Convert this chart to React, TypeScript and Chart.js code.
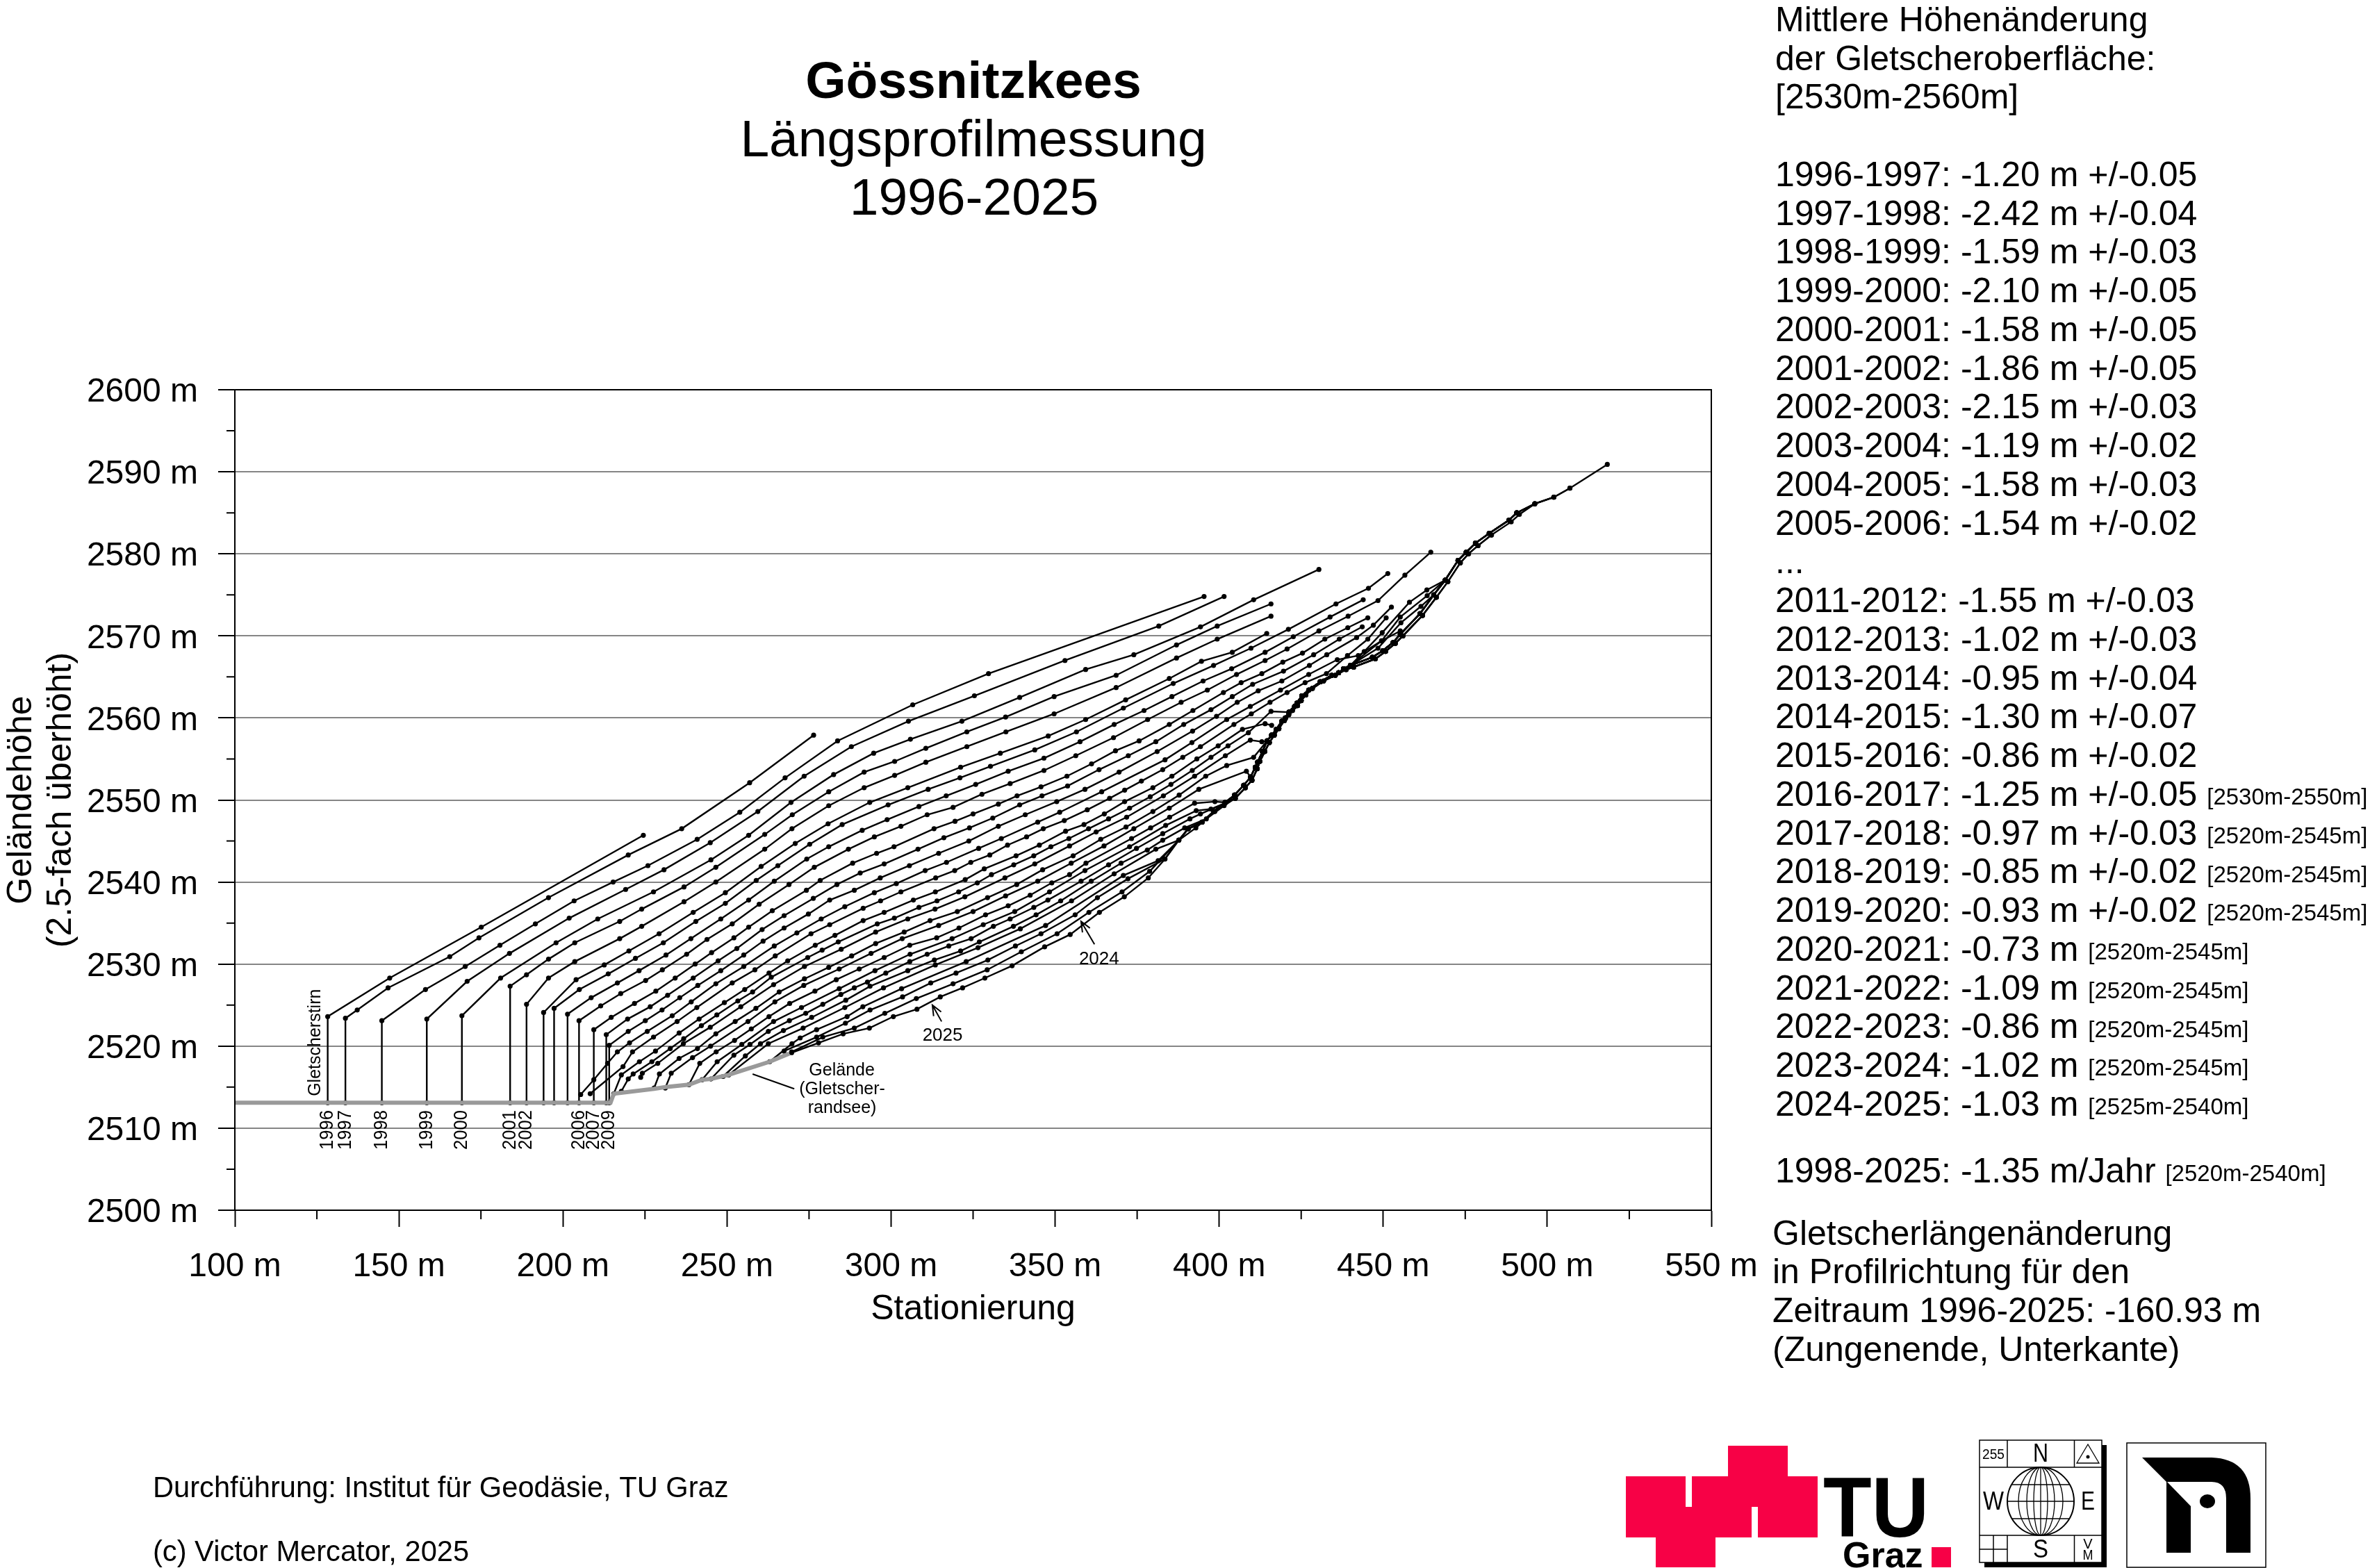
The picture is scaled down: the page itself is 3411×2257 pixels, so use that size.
import React, { useEffect, useRef } from "react";
import { Chart, registerables } from "chart.js";

Chart.register(...registerables);

type P = [number, number];

const FRONT_FOOT = 2513.1;

const s1996: P[] = [[128.3,FRONT_FOOT],[128.3,2523.6],[147.2,2528.3],[175.1,2534.5],[224.5,2545.7]];
const s1997: P[] = [[133.7,FRONT_FOOT],[133.7,2523.4],[137.3,2524.4],[146.7,2527.1],[165.5,2530.9],[174.4,2533.2],[195.6,2538.1],[219.9,2543.3],[236.2,2546.5],[256.9,2552.1],[276.4,2557.9]];
const s1998: P[] = [[144.8,FRONT_FOOT],[144.8,2523.1],[158.1,2526.9],[170.2,2529.7],[180.8,2532.3],[191.6,2534.9],[203.4,2537.7],[215.3,2540],[225.9,2542],[240.9,2545.2],[253.9,2548.5],[267.7,2552.7],[283.7,2557.2],[306.6,2561.6],[329.7,2565.4],[395.4,2574.8]];
const s1999: P[] = [[158.5,FRONT_FOOT],[158.5,2523.3],[170.8,2527.9],[183.7,2531.3],[201.9,2535.6],[219.1,2539.1],[230.8,2541.5],[244.9,2544.8],[259.4,2548.6],[273.5,2552.9],[287.9,2556.5],[305.3,2559.6],[325.4,2562.7],[353,2567],[381.6,2571.2],[401.5,2574.8]];
const s2000: P[] = [[169.2,FRONT_FOOT],[169.2,2523.7],[181,2528.3],[197.9,2532.6],[210.6,2535.5],[227.6,2538.8],[245.1,2542.7],[256.6,2545.7],[269.5,2549.7],[282.5,2553.1],[294.7,2555.7],[305.9,2557.4],[321.6,2559.6],[339.2,2562.5],[359.3,2565.9],[374,2567.7],[394.3,2571.1],[410.5,2574.4],[430.4,2578.1]];
const s2001: P[] = [[183.9,FRONT_FOOT],[183.9,2527.3],[188.9,2528.7],[195.6,2530.6],[203.6,2532.6],[217.3,2535.2],[224,2536.7],[236.9,2539.4],[246.6,2541.8],[261.5,2545.8],[269.9,2548.2],[281,2551],[291.8,2553.4],[301.1,2554.7],[310.6,2556.3],[323.1,2558.3],[334.9,2560.1],[349.7,2562.6],[368.6,2565.2],[387,2568.9],[399.4,2571.2],[415.8,2573.9]];
const s2002: P[] = [[188.9,FRONT_FOOT],[188.9,2525.1],[195.6,2528.3],[203.6,2530.3],[217.3,2533.1],[224,2534.6],[236.9,2537.6],[246.6,2540],[261.5,2544],[269.8,2546.5],[281,2549.3],[291.8,2551.5],[301.1,2553],[310.6,2554.6],[323.1,2556.5],[335,2558.3],[349.7,2560.5],[368.6,2563.7],[387,2567.3],[399.4,2569.6],[415.8,2572.4]];
const s2003: P[] = [[194.1,FRONT_FOOT],[194.1,2524.1],[204,2528.1],[212.6,2529.9],[220.1,2531.6],[229.3,2533.7],[239.7,2536.3],[249.5,2538.7],[260.4,2541.9],[270.8,2544.7],[280.8,2547.1],[293.5,2549.7],[305.1,2551.5],[321.2,2554],[333.3,2555.7],[347.9,2557.8],[359.3,2559.8],[371.5,2562.2],[384.8,2564.8],[394.6,2566.9],[404,2568],[414.5,2570.3]];
const s2004: P[] = [[197.3,FRONT_FOOT],[197.3,2524.6],[205,2526.9],[213.8,2528.8],[222.1,2530.7],[230.6,2532.6],[240.5,2535.2],[249.5,2537.4],[258.9,2540.2],[265.5,2542],[275.2,2544.6],[285.1,2547],[299.1,2549.4],[311.3,2551.3],[321,2552.7],[330.3,2554.1],[343.8,2556.1],[356.5,2558.3],[370.8,2561.2],[386,2564.2],[398.3,2566.4],[409.7,2568.5],[421.1,2570.8],[435.6,2573.9],[445.5,2575.8],[451.4,2577.6]];
const s2005: P[] = [[201.4,FRONT_FOOT],[201.4,2523.9],[208.6,2525.9],[216.6,2527.7],[223.2,2529.2],[231.4,2531.1],[239,2533.1],[248.1,2535.5],[256.6,2537.8],[264.4,2540.1],[274.3,2542.8],[281,2544.3],[291.2,2546.3],[298.8,2547.6],[308.5,2549.2],[316.8,2550.5],[325.8,2551.9],[335.7,2553.5],[346.6,2555.1],[357.6,2557.1],[368,2559.2],[377.1,2560.9],[385.6,2562.6],[395.1,2564.5],[403.8,2566],[414,2568],[422.6,2569.9],[433.8,2572.3],[443.9,2574.4]];
const s2006: P[] = [[204.9,FRONT_FOOT],[204.9,2523.1],[211.5,2524.9],[217.6,2526.4],[225.2,2528],[230.3,2529.3],[237.7,2531.2],[243.9,2533],[251.6,2534.9],[259.8,2537.3],[268.9,2539.7],[276.6,2541.8],[287,2544],[294.9,2545.5],[303,2546.8],[311,2548.2],[318.9,2549.1],[327.7,2550.7],[336.3,2552],[346.6,2553.6],[356.3,2555.4],[367.8,2557.6],[378.2,2559.8],[388.4,2561.9],[396.4,2563.4],[405.3,2565.3],[414,2567],[420.7,2568.4],[430.4,2570.6],[439.3,2572.4],[448.4,2574.3],[456.6,2577.4],[464.5,2580.2]];
const s2007: P[] = [[209.4,FRONT_FOOT],[209.4,2522],[214.7,2523.5],[221.8,2525.2],[228.3,2526.7],[234.2,2528.3],[240.3,2530],[245.3,2531.4],[252.1,2533.2],[256.6,2534.5],[263.8,2536.5],[274.2,2539],[278.4,2540.2],[288.3,2542.3],[295.6,2543.5],[300.9,2544.3],[313.1,2546.5],[319.5,2547.4],[325,2548.3],[332.7,2549.5],[338.4,2550.5],[345.7,2551.6],[353.6,2552.9],[361.1,2554.4],[368.4,2556],[375.6,2557.2],[384.8,2559.2],[392,2560.9],[401.3,2563.1],[406.7,2564.3],[413,2565.4],[419.4,2566.8],[425.4,2567.9],[432.2,2569.6],[439.2,2571],[445.3,2572.2]];
const s2008: P[] = [[213.2,FRONT_FOOT],[213.2,2521.4],[219.7,2523.3],[226.6,2524.8],[231.9,2526.2],[239.7,2528.3],[247.3,2530.4],[253,2531.9],[260.7,2534.2],[267.4,2535.9],[276.3,2538],[283.5,2539.7],[290.6,2541.1],[297.9,2542.2],[308.2,2544],[316.1,2545.4],[323.9,2546.6],[331,2547.8],[339.2,2549.4],[346,2550.5],[353.8,2551.7],[363.4,2553.7],[372.3,2555.4],[380.7,2557.1],[389.2,2559.2],[397.5,2561],[404,2562.6],[410.2,2564.1],[419.6,2565.7],[428.8,2567.7],[436.6,2569.6],[443.6,2571.1]];
const s2009: P[] = [[214.1,FRONT_FOOT],[214.1,2520.1],[219.9,2521.8],[225.1,2523.1],[230.2,2524.4],[235.6,2525.9],[241.1,2527.4],[248.1,2529.2],[255.1,2531.1],[261,2532.8],[267.4,2534.4],[274.8,2536.1],[281.3,2537.8],[288.8,2539],[296.7,2540.5],[305.6,2542],[314.5,2543.5],[323.7,2545],[332.7,2546.8],[340.9,2548.2],[350.5,2549.8],[359.1,2551.3],[369.5,2553.4],[381.1,2555.9],[391.9,2558.4],[399.2,2560.2],[405.5,2561.9],[411.9,2563.3],[419.1,2564.5],[427.5,2566.4],[432.8,2567.7],[441.9,2569.8],[447,2571.3],[452.5,2573.5]];
const s2010: P[] = [[205.4,2514.1],[209.4,2515.9],[213.6,2517.9],[216.6,2519.3],[220.3,2520.4],[225.7,2521.8],[233.3,2523.7],[239.1,2525.4],[246.6,2527.6],[255.1,2529.7],[264.4,2532.2],[271.3,2533.8],[278.7,2535.5],[285.9,2537],[294.9,2538.7],[301.6,2539.8],[310.4,2541.4],[316.9,2542.4],[326.7,2544.1],[333.6,2545.3],[344.7,2547.3],[351.4,2548.5],[364.2,2551],[383.5,2554.9],[391.7,2557],[402.3,2559.8],[409.5,2561.4],[418.7,2563.4],[427.3,2565.3],[436,2567.1],[442.4,2567.6],[449.5,2569.4],[455.2,2570.6]];
const s2011: P[] = [[208.3,2514.2],[218.3,2517.5],[221.2,2519.3],[227.6,2521.1],[234.8,2523],[240.8,2524.7],[251.6,2527.7],[258.5,2529.3],[264.7,2531],[275.6,2533.7],[281.3,2534.8],[291.5,2536.8],[296.8,2537.7],[303,2538.8],[313.6,2540.5],[319.4,2541.4],[324.3,2542.4],[330.1,2543.3],[335.5,2544.5],[341.3,2545.5],[346.4,2546.5],[352.8,2547.5],[359.8,2548.8],[366.6,2550.2],[371.2,2551.2],[376.3,2552.3],[382.8,2553.7],[388.9,2555.2],[394.3,2556.5],[404.5,2559.2],[409.8,2560.5],[415.5,2561.9],[420.7,2563.1],[426.2,2564.3],[432.7,2565.4],[439.1,2567.6],[445.3,2569.6],[450.9,2572.2]];
const s2012: P[] = [[215.5,2514.2],[217.8,2516.5],[223.3,2518.1],[228.2,2519.4],[235.4,2521.6],[241.5,2523.3],[249.2,2525.3],[255.4,2526.9],[262.8,2528.9],[268.5,2530.4],[276.9,2532.3],[282.9,2533.5],[291.5,2535.3],[297.9,2536.3],[306.8,2537.8],[313.5,2538.8],[322.6,2540.3],[328.4,2541.6],[338.1,2543.2],[345.2,2544.5],[353.2,2546.2],[358.8,2547],[365,2548.3],[371.2,2549.8],[379.8,2551.5],[385.6,2552.9],[393.2,2555],[399.7,2556.6],[407.1,2558.6],[414,2559.3],[416,2559.1]];
const s2013: P[] = [[217.8,2514.5],[219.9,2516],[221.4,2516.6],[227.1,2518.1],[232.7,2519.7],[236.8,2520.9],[242.2,2522.5],[246.9,2523.8],[253.3,2525.5],[257.8,2526.6],[263.5,2528.4],[274.6,2530.8],[279,2531.7],[283.9,2532.7],[295.8,2534.9],[301,2535.6],[308.5,2536.9],[314,2537.7],[320.6,2538.8],[326.3,2539.9],[330.6,2540.9],[337.4,2542.1],[343.5,2543.2],[348.7,2544.3],[354.2,2545.3],[360.2,2546.5],[366.3,2547.7],[372.7,2549],[379,2550.4],[385.3,2551.9],[391.8,2553.6],[397.5,2555.2],[402.7,2556.6],[408.9,2558.2],[415.8,2560.8],[421.3,2560.7]];
const s2013Upper: P[] = [[444.2,2568.1],[449.7,2570.4],[458,2574.1],[463.3,2575.6]];
const s2014: P[] = [[223.7,2516.2],[224.2,2516.7],[228.9,2517.9],[236.7,2520.3],[244.9,2522.3],[254.2,2524.8],[264.2,2527.5],[273.6,2529.7],[284.8,2531.8],[295.3,2533.9],[305.1,2535.5],[313.4,2536.7],[322.5,2538.2],[334.7,2540.5],[343.8,2542.2],[354.4,2544.4],[362.5,2546.1],[371.8,2547.9],[383,2550.5],[392.5,2552.9],[401.9,2555.4],[409.5,2557.3],[413,2557.1]];
const s2014Upper: P[] = [[449.5,2569.4],[455.2,2572.3],[463.4,2574.9]];
const s2015: P[] = [[227.8,2514.9],[229.4,2516.6],[235.4,2518.5],[241,2519.7],[246.6,2521.5],[252.5,2523],[258.8,2524.6],[265.9,2526.6],[273.6,2528.2],[281,2529.6],[288,2531],[295.3,2532.5],[304,2533.9],[311.9,2535.3],[320.2,2536.4],[329.4,2538.1],[338.3,2539.7],[346.2,2541.5],[355.5,2543.2],[363.9,2545.2],[371.6,2546.7],[379.8,2548.6],[387.8,2550.6],[395.9,2552.9],[402.3,2554.2],[410.5,2555.2]];
const s2015Upper: P[] = [[448.4,2568.5],[455.4,2571.6],[461.5,2573.6]];
const s2016: P[] = [[231.2,2514.9],[233,2516.7],[239.5,2518.6],[245,2520],[256.4,2523],[264.6,2525.4],[273.4,2527.4],[284.2,2529.4],[293.9,2531.3],[303.4,2533.1],[314.5,2534.7],[325,2536.4],[334.9,2538.3],[344.7,2540.1],[354.9,2542.3],[364.9,2544.4],[374,2546.5],[384.8,2549],[393.8,2551.3],[408.3,2553.5],[409.6,2552.8]];
const s2017: P[] = [[238.4,2515.3],[241.7,2517.9],[246.7,2519.3],[252.3,2520.7],[257.4,2522.1],[262.8,2523.6],[269.1,2525.2],[276.8,2526.7],[283.3,2528.1],[290.3,2529.4],[297.9,2530.8],[305.7,2532.3],[313.9,2533.2],[320.7,2534.4],[328.8,2536],[335.7,2537.1],[342.4,2538.4],[349,2539.9],[354.4,2540.9],[359.4,2542.3],[373.3,2545.3],[379.1,2546.6],[384.9,2547.9],[392.5,2549.6],[398.7,2549.8],[401.8,2549.7]];
const s2018: P[] = [[242.4,2515.9],[247,2518.1],[254.5,2520.2],[264.2,2523],[272.7,2524.7],[284.2,2527],[295.1,2529.2],[305.8,2531.2],[318.6,2533.1],[328.1,2534.8],[337.7,2536.4],[348.3,2538.8],[359.1,2541.4],[372.7,2544.3],[383.7,2546.9],[393,2548.7],[397.5,2548.9],[401.8,2549.6]];
const s2019: P[] = [[245.1,2516],[252.1,2518.9],[257,2520.2],[262.6,2521.8],[269,2523.1],[274,2524],[279.2,2525.1],[284.7,2526.3],[288.8,2527.1],[292.8,2527.8],[298.4,2528.9],[305.7,2530.3],[311,2531.2],[317.6,2532.2],[324.4,2533.1],[331.2,2534.6],[336.3,2535.5],[343.5,2536.9],[347.8,2537.8],[357.9,2540.1],[366.3,2542.1],[374.8,2544.1],[382.8,2545.9],[391.1,2547.7],[394.3,2548.3],[401.8,2549.6]];
const s2020: P[] = [[248.8,2516.3],[255.6,2518.8],[260.2,2520.3],[267.2,2521.9],[275.8,2523.5],[286.2,2525.6],[293.6,2527.3],[305.1,2529.2],[313.2,2530.5],[321.2,2531.6],[326.9,2532.7],[337.3,2534.6],[344.2,2536],[351.7,2537.7],[361,2540.1],[370.1,2542.3],[378.1,2543.9],[382.8,2545.1],[389.5,2546.6],[396.1,2547.7],[401.5,2549.3]];
const s2021: P[] = [[250.5,2516.5],[262.6,2520.3],[273.2,2522.2],[285.9,2524.7],[297.7,2527.1],[313.5,2529.9],[326.5,2532],[339.4,2534.3],[355,2537.7],[368,2541],[380.7,2544],[387.7,2545.1],[392.9,2546.6],[398.7,2548.6]];
const s2022: P[] = [[263,2518.1],[269.8,2520.3],[272.3,2521],[277.3,2522],[286.6,2523.6],[291.4,2524.8],[303.2,2527],[322.9,2530.3],[347.1,2534.7],[370.8,2540.8],[381.4,2542.6]];
const s2023: P[] = [[267.4,2519.4],[277.3,2521.1],[286.1,2522.8],[293.6,2524.4],[303.5,2526],[312.1,2527.7],[319.8,2528.9],[329.5,2530.5],[337.9,2532.2],[345.7,2533.7],[356.1,2536],[362.9,2538.1],[372.2,2540.4],[383.4,2542.8]];
const s2024: P[] = [[269.7,2519.3],[279.2,2521.1],[288.8,2522.2],[298.1,2524],[307.7,2525.8],[318.9,2527.6],[329.3,2529.3],[339.7,2531.5],[350.6,2533.7],[360.3,2536.3],[370.4,2538.8],[378.8,2541.3]];
const s2025: P[] = [[269.7,2519.2],[277.9,2520.4],[285.4,2521.5],[293.4,2522.2],[300.7,2523.6],[307.9,2524.5],[315,2526],[321.8,2527.1],[328.6,2528.3],[336.9,2529.8],[346.8,2532.1],[354.6,2533.6],[363.5,2536.3],[371.1,2538.2],[378.4,2540.5],[383.5,2542.8]];

// surveyed surface along the steep upper part, shared by the later profiles
const ridge: P[] = [[387.7,2545.1],[390.6,2546.5],[394.8,2547.3],[398.3,2548.6],[401.8,2549.7],[404.7,2550.6],[407.5,2551.8],[409.6,2552.8],[411,2554],[411.7,2554.6],[413.2,2555.9],[414.6,2557.2],[416,2557.9],[417.4,2558.6],[419.1,2559.6],[420.2,2560],[421.3,2560.7],[423,2561.4],[423.7,2561.8],[425.2,2562.7],[427.3,2563.4],[430.8,2564.4],[434.3,2565.2],[436.4,2565.5],[437.9,2566],[440,2566.4],[446.7,2567.4],[449.9,2568.2],[453,2569.2],[455.2,2570.2],[461.2,2572.7],[465.4,2575],[468.9,2576.8],[472.8,2579.2],[475.3,2580.2],[478.1,2581.3],[482.3,2582.5],[488.3,2584.1],[490.7,2585],[496.2,2586.1],[502,2586.9],[506.9,2588],[518.3,2590.9]];
// the same surface as surveyed in the last few years, a hair below the earlier line
const ridgeLate: P[] = [[404.9,2550.2],[408,2551.5],[410,2552.4],[411.6,2553.8],[412.4,2554.7],[413.9,2555.9],[415.3,2557],[416.8,2557.9],[418.2,2558.7],[419.9,2559.7],[421.2,2560.4],[422.3,2560.9],[423.9,2561.5],[425,2562.1],[426.4,2562.8],[428.4,2563.6],[431.8,2564.5],[435.4,2565.2],[438.7,2565.9],[441,2566.2],[447.6,2567.2],[450.7,2568.1],[453.7,2569.1],[456,2570],[462,2572.5],[466.2,2574.7],[469.7,2576.6],[473.5,2578.9],[476,2580],[478.9,2581],[483,2582.3],[489,2583.9],[491.5,2584.8]];

const terrain: P[] = [[100,2513.1],[214.5,2513.1],[215.5,2514.2],[227.8,2514.8],[231.2,2515],[238.4,2515.3],[242.4,2515.9],[245.1,2516],[250.5,2516.5],[263,2518.1],[269,2519.1]];

const ridgeBetween = (a: number, b: number): P[] => ridge.filter(([x]) => x >= a && x <= b);
const lateBetween = (a: number, b: number): P[] => ridgeLate.filter(([x]) => x >= a && x <= b);

const profiles: P[][] = [
  s1996, s1997, s1998, s1999, s2000, s2001, s2002, s2003, s2004, s2005, s2006, s2007, s2008, s2009,
  s2010, s2011, s2012,
  [...s2013, ...ridgeBetween(425, 440), ...s2013Upper, ...ridgeBetween(468.9, 475.3)],
  [...s2014, ...ridgeBetween(414.6, 440), ...s2014Upper, ...ridgeBetween(468.9, 490.7)],
  [...s2015, ...ridgeBetween(414.6, 440), ...s2015Upper, ...ridgeBetween(465.4, 478.1)],
  [...s2016, ...ridgeBetween(411, 461.2)],
  [...s2017, ...ridgeBetween(404.7, 502)],
  [...s2018, ...ridgeBetween(404.7, 496.2)],
  [...s2019, ...ridgeBetween(404.7, 490.7)],
  [...s2020, ...lateBetween(404.9, 483)],
  [...s2021, ...ridgeBetween(401.8, 472.8)],
  [...s2022, ...ridgeBetween(387.7, 402), ...lateBetween(404.9, 466.2)],
  [...s2023, ...ridgeBetween(387.7, 402), ...lateBetween(404.9, 462)],
  [...s2024, ...ridgeBetween(387.7, 402), ...lateBetween(404.9, 491.5), ...ridgeBetween(496.2, 506.9)],
  [...s2025, ...ridgeBetween(387.7, 518.3)],
];

const frontYears = ["1996","1997","1998","1999","2000","2001","2002","2006","2007","2009"];
const frontYearX = [128.1,133.5,144.6,158.3,169,183.7,188.7,204.7,209.2,213.9];

const rightBlock: [string, string][] = [
  ["Mittlere Höhenänderung",""],
  ["der Gletscheroberfläche:",""],
  ["[2530m-2560m]",""],
  ["",""],
  ["1996-1997: -1.20 m +/-0.05",""],
  ["1997-1998: -2.42 m +/-0.04",""],
  ["1998-1999: -1.59 m +/-0.03",""],
  ["1999-2000: -2.10 m +/-0.05",""],
  ["2000-2001: -1.58 m +/-0.05",""],
  ["2001-2002: -1.86 m +/-0.05",""],
  ["2002-2003: -2.15 m +/-0.03",""],
  ["2003-2004: -1.19 m +/-0.02",""],
  ["2004-2005: -1.58 m +/-0.03",""],
  ["2005-2006: -1.54 m +/-0.02",""],
  ["...",""],
  ["2011-2012: -1.55 m +/-0.03",""],
  ["2012-2013: -1.02 m +/-0.03",""],
  ["2013-2014: -0.95 m +/-0.04",""],
  ["2014-2015: -1.30 m +/-0.07",""],
  ["2015-2016: -0.86 m +/-0.02",""],
  ["2016-2017: -1.25 m +/-0.05","[2530m-2550m]"],
  ["2017-2018: -0.97 m +/-0.03","[2520m-2545m]"],
  ["2018-2019: -0.85 m +/-0.02","[2520m-2545m]"],
  ["2019-2020: -0.93 m +/-0.02","[2520m-2545m]"],
  ["2020-2021: -0.73 m","[2520m-2545m]"],
  ["2021-2022: -1.09 m","[2520m-2545m]"],
  ["2022-2023: -0.86 m","[2520m-2545m]"],
  ["2023-2024: -1.02 m","[2520m-2545m]"],
  ["2024-2025: -1.03 m","[2525m-2540m]"],
];
const summaryLine: [string, string] = ["1998-2025: -1.35 m/Jahr","[2520m-2540m]"];
const lengthBlock = ["Gletscherlängenänderung","in Profilrichtung für den","Zeitraum 1996-2025: -160.93 m","(Zungenende, Unterkante)"];

const SANS = '"Liberation Sans", Arial, sans-serif';

function drawLogos(c: CanvasRenderingContext2D) {
  // TU Graz
  c.fillStyle = "#f70146";
  c.fillRect(2340, 2125, 276, 88);
  c.fillRect(2487, 2081, 86, 44);
  c.fillRect(2383, 2213, 86, 43);
  c.fillStyle = "#fff";
  c.fillRect(2426, 2125, 9, 44);
  c.fillRect(2521, 2169, 9, 44);
  c.fillStyle = "#000";
  c.textAlign = "left";
  c.textBaseline = "alphabetic";
  c.font = `bold 122px ${SANS}`;
  c.fillText("TU", 2624, 2212, 152);
  c.font = `bold 52px ${SANS}`;
  c.fillText("Graz", 2652, 2256, 124);
  c.fillStyle = "#f70146";
  c.fillRect(2780, 2227, 28, 29);
  // map sheet symbol
  c.fillStyle = "#000";
  c.fillRect(2856, 2080, 176, 176);
  c.fillStyle = "#fff";
  c.fillRect(2849, 2073, 176, 176);
  c.fillStyle = "#000";
  c.strokeStyle = "#000";
  c.lineWidth = 1.5;
  c.strokeRect(2849, 2073, 176, 176);
  c.beginPath();
  c.moveTo(2889, 2073); c.lineTo(2889, 2112);
  c.moveTo(2889, 2210); c.lineTo(2889, 2249);
  c.moveTo(2985.5, 2073); c.lineTo(2985.5, 2112);
  c.moveTo(2985.5, 2210); c.lineTo(2985.5, 2249);
  c.moveTo(2849, 2112); c.lineTo(3025, 2112);
  c.moveTo(2849, 2210); c.lineTo(3025, 2210);
  c.moveTo(2849, 2230); c.lineTo(2889, 2230);
  c.moveTo(2869, 2210); c.lineTo(2869, 2249);
  c.stroke();
  c.lineWidth = 2;
  c.beginPath(); c.ellipse(2937, 2161, 48, 49, 0, 0, Math.PI * 2); c.stroke();
  c.lineWidth = 1.3;
  c.save();
  c.beginPath(); c.ellipse(2937, 2161, 48, 49, 0, 0, Math.PI * 2); c.clip();
  [10, 20, 32].forEach((rx) => { c.beginPath(); c.ellipse(2937, 2161, rx, 49, 0, 0, Math.PI * 2); c.stroke(); });
  c.beginPath();
  c.moveTo(2937, 2112); c.lineTo(2937, 2210);
  c.moveTo(2889, 2161); c.lineTo(2985, 2161);
  c.moveTo(2889, 2137); c.lineTo(2985, 2137);
  c.moveTo(2889, 2186); c.lineTo(2985, 2186);
  c.stroke();
  c.restore();
  c.lineWidth = 1.3;
  c.beginPath(); c.moveTo(3005, 2079); c.lineTo(2989, 2106); c.lineTo(3021, 2106); c.closePath(); c.stroke();
  c.beginPath(); c.arc(3005, 2097, 2.5, 0, Math.PI * 2); c.fill();
  c.textAlign = "center";
  c.textBaseline = "middle";
  c.font = `20px ${SANS}`;
  c.fillText("255", 2869, 2094, 32);
  c.font = `36px ${SANS}`;
  c.fillText("N", 2937, 2094, 22);
  c.fillText("S", 2937, 2232, 22);
  c.fillText("W", 2869, 2163, 30);
  c.fillText("E", 3005, 2163, 20);
  c.font = `20px ${SANS}`;
  c.fillText("V", 3005, 2223);
  c.fillText("M", 3005, 2239, 15);
  // third sign
  c.lineWidth = 1.5;
  c.strokeRect(3061, 2077, 200, 179);
  c.beginPath();
  c.moveTo(3083, 2098);
  c.lineTo(3183, 2098);
  c.quadraticCurveTo(3239, 2100, 3239, 2157);
  c.lineTo(3239, 2235); c.lineTo(3204, 2235); c.lineTo(3204, 2157);
  c.quadraticCurveTo(3204, 2133, 3183, 2133);
  c.lineTo(3119, 2133); c.lineTo(3153, 2168); c.lineTo(3153, 2235); c.lineTo(3118, 2235); c.lineTo(3118, 2133);
  c.closePath();
  c.fill();
  c.fillStyle = "#000";
  c.beginPath(); c.ellipse(3177, 2161, 11, 10, 0, 0, Math.PI * 2); c.fill();
}

const pagePlugin = {
  id: "page",
  afterDatasetsDraw(chart: any) {
    const c: CanvasRenderingContext2D = chart.ctx;
    const xs = chart.scales.x, ys = chart.scales.y;
    const { left, right, top, bottom } = chart.chartArea;
    const px = (v: number) => xs.getPixelForValue(v);
    const py = (v: number) => ys.getPixelForValue(v);
    c.save();
    // frame
    c.strokeStyle = "#000";
    c.lineWidth = 2;
    c.strokeRect(left, top, right - left, bottom - top);
    // minor ticks
    c.lineWidth = 2;
    c.beginPath();
    for (let v = 2505; v < 2600; v += 10) { c.moveTo(left - 12, py(v)); c.lineTo(left, py(v)); }
    for (let v = 125; v < 550; v += 50) { c.moveTo(px(v), bottom); c.lineTo(px(v), bottom + 13); }
    c.stroke();
    // year labels under the ice fronts
    c.fillStyle = "#000";
    c.font = `27px ${SANS}`;
    c.textBaseline = "middle";
    c.textAlign = "right";
    frontYears.forEach((t, i) => {
      c.save();
      c.translate(px(frontYearX[i]), py(2512.2));
      c.rotate(-Math.PI / 2);
      c.scale(0.95, 1);
      c.fillText(t, 0, 1);
      c.restore();
    });
    c.save();
    c.translate(px(124.5), py(2513.9));
    c.rotate(-Math.PI / 2);
    c.textAlign = "left";
    c.font = `25px ${SANS}`;
    c.fillText("Gletscherstirn", 0, 0);
    c.restore();
    // annotation labels + leaders
    c.textAlign = "center";
    c.font = `26px ${SANS}`;
    c.fillText("2024", px(363.4), py(2530.6));
    c.fillText("2025", px(315.7), py(2521.3));
    c.font = `25px ${SANS}`;
    c.fillText("Gelände", px(285), py(2517));
    c.fillText("(Gletscher-", px(285.1), py(2514.7));
    c.fillText("randsee)", px(285.1), py(2512.4));
    c.lineWidth = 2;
    const leader = (x0: number, y0: number, x1: number, y1: number, arrow: boolean) => {
      const ax = px(x0), ay = py(y0), bx = px(x1), by = py(y1);
      c.beginPath();
      c.moveTo(ax, ay); c.lineTo(bx, by);
      if (arrow) {
        const ang = Math.atan2(by - ay, bx - ax), L = 16;
        c.moveTo(ax + L * Math.cos(ang - 0.4), ay + L * Math.sin(ang - 0.4));
        c.lineTo(ax, ay);
        c.lineTo(ax + L * Math.cos(ang + 0.4), ay + L * Math.sin(ang + 0.4));
      }
      c.stroke();
    };
    leader(357.9, 2535.2, 362, 2532.4, true);
    leader(312.6, 2525, 315.4, 2523, true);
    leader(257.8, 2516.6, 270.5, 2514.8, false);
    // page title
    c.textAlign = "center";
    c.textBaseline = "middle";
    c.font = `bold 75px ${SANS}`;
    c.fillText("Gössnitzkees", 1401, 120);
    c.font = `75px ${SANS}`;
    c.fillText("Längsprofilmessung", 1401, 204);
    c.fillText("1996-2025", 1402, 288);
    // right column
    c.textAlign = "left";
    const lineY = (i: number) => 31 + i * 55.75;
    const big = `50px ${SANS}`, small = `33px ${SANS}`;
    const row = (t: [string, string], x: number, y: number) => {
      c.font = big;
      c.fillText(t[0], x, y);
      if (t[1]) {
        const w = c.measureText(t[0] + " ").width;
        c.font = small;
        c.fillText(t[1], x + w, y + 3);
      }
    };
    rightBlock.forEach((t, i) => { if (t[0]) row(t, 2555, lineY(i)); });
    row(summaryLine, 2555, 1688);
    lengthBlock.forEach((t, i) => { c.font = big; c.fillText(t, 2551, 1778 + i * 55.7); });
    // footer
    c.font = `41.65px ${SANS}`;
    c.fillText("Durchführung: Institut für Geodäsie, TU Graz", 220, 2144);
    c.fillText("(c) Victor Mercator, 2025", 220, 2236);
    drawLogos(c);
    c.restore();
  },
};

export default function App() {
  const ref = useRef<HTMLCanvasElement>(null);
  useEffect(() => {
    const chart = new Chart(ref.current as HTMLCanvasElement, {
      type: "line",
      data: {
        datasets: [
          {
            label: "Gelände",
            data: terrain.map(([x, y]) => ({ x, y })),
            borderColor: "#9a9a9a",
            borderWidth: 6,
            pointRadius: 0,
            tension: 0,
          },
          ...profiles.map((p, i) => ({
            label: String(1996 + i),
            data: p.map(([x, y]) => ({ x, y })),
            borderColor: "#000",
            borderWidth: 2.4,
            pointRadius: 3.6,
            pointBackgroundColor: "#000",
            pointBorderWidth: 0,
            tension: 0,
          })),
        ],
      },
      plugins: [pagePlugin],
      options: {
        animation: false,
        responsive: false,
        devicePixelRatio: 1,
        parsing: false,
        layout: { padding: { top: 561, right: 948, left: 0, bottom: 342 } },
        plugins: { legend: { display: false }, tooltip: { enabled: false } },
        scales: {
          x: {
            type: "linear",
            min: 100,
            max: 550,
            afterFit: (s: any) => { s.height = 173; },
            afterBuildTicks: (s: any) => {
              const t = [];
              for (let v = 100; v <= 550; v += 50) t.push({ value: v });
              s.ticks = t;
            },
            ticks: {
              autoSkip: false,
              maxRotation: 0,
              padding: 29,
              color: "#000",
              font: { family: "Liberation Sans", size: 48 },
              callback: (v: any) => `${v} m`,
            },
            grid: { drawOnChartArea: false, tickLength: 24, tickWidth: 2, tickColor: "#000" },
            border: { color: "#000", width: 2 },
            title: {
              display: true,
              text: "Stationierung",
              color: "#000",
              font: { family: "Liberation Sans", size: 50 },
              padding: { top: 0, bottom: 0 },
            },
          },
          y: {
            type: "linear",
            min: 2500,
            max: 2600,
            afterFit: (s: any) => { s.width = 338; },
            afterBuildTicks: (s: any) => {
              const t = [];
              for (let v = 2500; v <= 2600; v += 10) t.push({ value: v });
              s.ticks = t;
            },
            ticks: {
              autoSkip: false,
              padding: 29,
              labelOffset: 4,
              color: "#000",
              font: { family: "Liberation Sans", size: 48 },
              callback: (v: any) => `${v} m`,
            },
            grid: {
              color: "#858585",
              lineWidth: 2,
              tickLength: 24,
              tickColor: "#000",
              tickWidth: 2,
            },
            border: { color: "#000", width: 2 },
            title: {
              display: true,
              text: ["Geländehöhe", "(2.5-fach überhöht)"],
              color: "#000",
              font: { family: "Liberation Sans", size: 50, lineHeight: 1.13 },
              padding: { top: 3, bottom: 0 },
            },
          },
        },
      },
    } as any);
    return () => chart.destroy();
  }, []);
  return <canvas ref={ref} width={3411} height={2257} style={{ position: "absolute", left: 0, top: 0, background: "#fff" }} />;
}
